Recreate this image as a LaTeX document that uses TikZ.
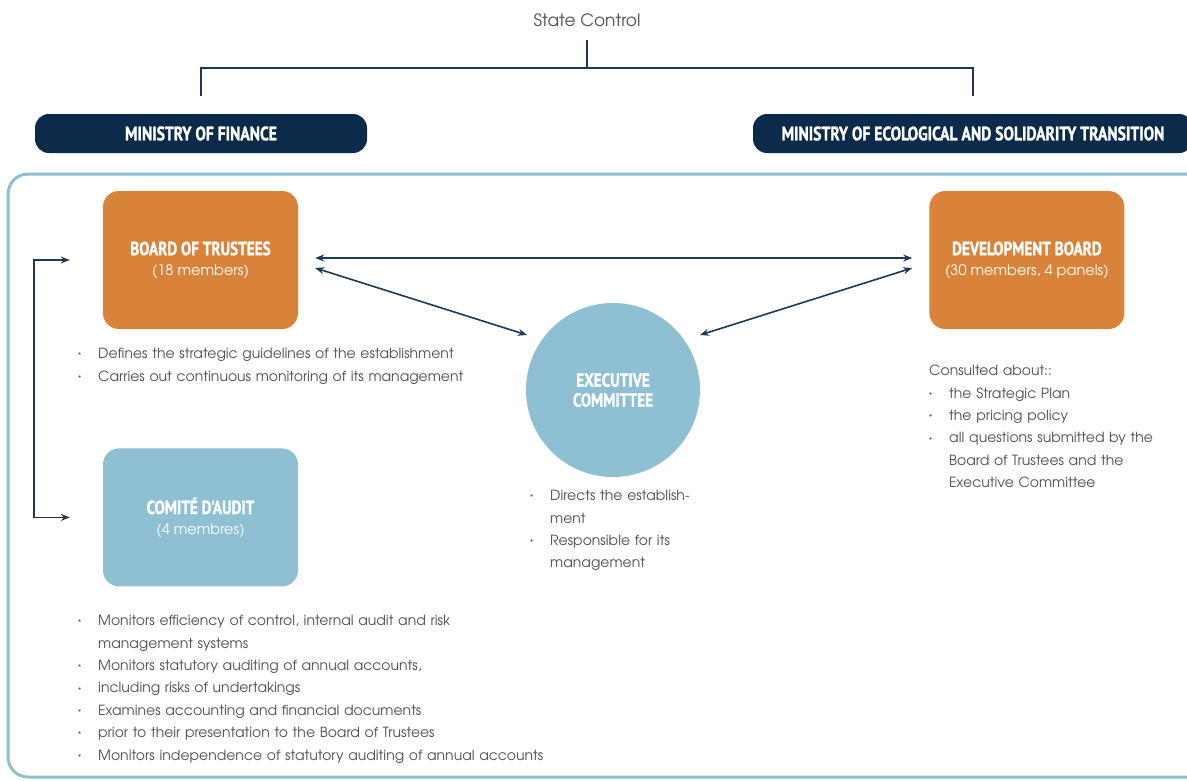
\documentclass[tikz,border=0pt]{standalone}
\usepackage{fontspec}
\setmainfont{TeX Gyre Adventor}
\newfontfamily\headfont{PT Sans}[FakeStretch=0.8,FakeBold=1.2]
\usetikzlibrary{arrows.meta,positioning,shapes.geometric}
\definecolor{navy}{HTML}{0C2B4B}
\definecolor{rust}{HTML}{D9823A}
\definecolor{sky}{HTML}{8FBFD3}
\definecolor{ink}{HTML}{505050}
\definecolor{wire}{HTML}{1D3954}
\newcommand\hd[1]{{\headfont\bfseries\fontsize{19}{20}\selectfont #1}}
\newcommand\dotitem[1]{\par\hangindent=20pt\hangafter=1\noindent
  \makebox[20pt][l]{\raisebox{.35ex}{\fontsize{6}{6}\selectfont\textbullet}}#1}
\tikzset{
  ministry/.style={fill=navy, rounded corners=14pt, minimum height=39pt,
    text=white, font=\headfont\bfseries\fontsize{19.5}{20}\selectfont},
  board/.style={fill=rust, rounded corners=16pt, minimum width=195pt,
    minimum height=138pt, text=white, align=center,
    font=\fontsize{14.5}{20}\selectfont},
  auditbox/.style={board, fill=sky},
  execnode/.style={circle, fill=sky, minimum size=174pt, text=white,
    align=center, font=\headfont\bfseries\fontsize{19}{20}\selectfont},
  notes/.style={text=ink, align=left, inner sep=0pt, anchor=north west,
    font=\fontsize{14}{22.4}\selectfont},
  link/.style={wire, line width=1.6pt,
    {Stealth[length=9pt,width=7pt]}-{Stealth[length=9pt,width=7pt]}},
  ctl/.style={wire, line width=1.3pt}
}
\begin{document}
\begin{tikzpicture}[x=1pt, y=-1pt]
  \useasboundingbox (0,0) rectangle (1187,780);
  % state control and the two ministries
  \node[text=ink, font=\fontsize{17}{20}\selectfont] (sc) at (587,20) {State Control};
  \node[ministry, minimum width=332pt] (mof) at (201,133.5) {MINISTRY OF FINANCE};
  \node[ministry, minimum width=440pt] (moe) at (973,133.5)
    {MINISTRY OF ECOLOGICAL AND SOLIDARITY TRANSITION};
  \coordinate (split) at (587,68);
  \draw[ctl] ([yshift=-10pt]sc.south) -- (split);
  \draw[ctl] ([yshift=18pt]mof.north) |- (split) -| ([yshift=18pt]moe.north);

  % frame round the establishment
  \draw[sky, line width=3pt, rounded corners=20pt] (8,174) rectangle (1210,777);

  % bodies
  \node[board] (bot) at (200.5,260) {\hd{BOARD OF TRUSTEES}\\(18 members)};
  \node[board, right=631pt of bot] (devb) {\hd{DEVELOPMENT BOARD}\\(30 members, 4 panels)};
  \node[auditbox, below=119pt of bot] (cda) {\hd{COMITÉ D'AUDIT}\\(4 membres)};
  \node[execnode] (exc) at (613,390) {EXECUTIVE\\COMMITTEE};

  % links
  \draw[link] ([shift={(17,-2)}]bot.east) -- ([shift={(-17,-2)}]devb.west);
  \draw[link] ([shift={(17,8)}]bot.east) -- ([shift={(-86,-55)}]exc.center);
  \draw[link] ([shift={(-17,8)}]devb.west) -- ([shift={(87,-55)}]exc.center);
  \draw[link] ([xshift=-33pt]bot.west) -- ++(-36,0) |- ([xshift=-33pt]cda.west);

  % notes
  \node[notes, text width=420pt] (botnotes) at (78,336) {%
    \dotitem{Defines the strategic guidelines of the establishment}%
    \dotitem{Carries out continuous monitoring of its management}\par};
  \node[notes, text width=220pt] (excnotes) at (530,478) {%
    \dotitem{Directs the establish-\newline ment}%
    \dotitem{Responsible for its\newline management}\par};
  \node[notes, text width=258pt] (devnotes) at (929,365) {%
    \noindent Consulted about::%
    \dotitem{the Strategic Plan}%
    \dotitem{the pricing policy}%
    \dotitem{all questions submitted by the\newline Board of Trustees and the\newline Executive Committee}\par};
  \node[notes, text width=520pt] (cdanotes) at (78,603) {%
    \dotitem{Monitors efficiency of control, internal audit and risk\newline management systems}%
    \dotitem{Monitors statutory auditing of annual accounts,}%
    \dotitem{including risks of undertakings}%
    \dotitem{Examines accounting and financial documents}%
    \dotitem{prior to their presentation to the Board of Trustees}%
    \dotitem{Monitors independence of statutory auditing of annual accounts}\par};
\end{tikzpicture}
\end{document}
